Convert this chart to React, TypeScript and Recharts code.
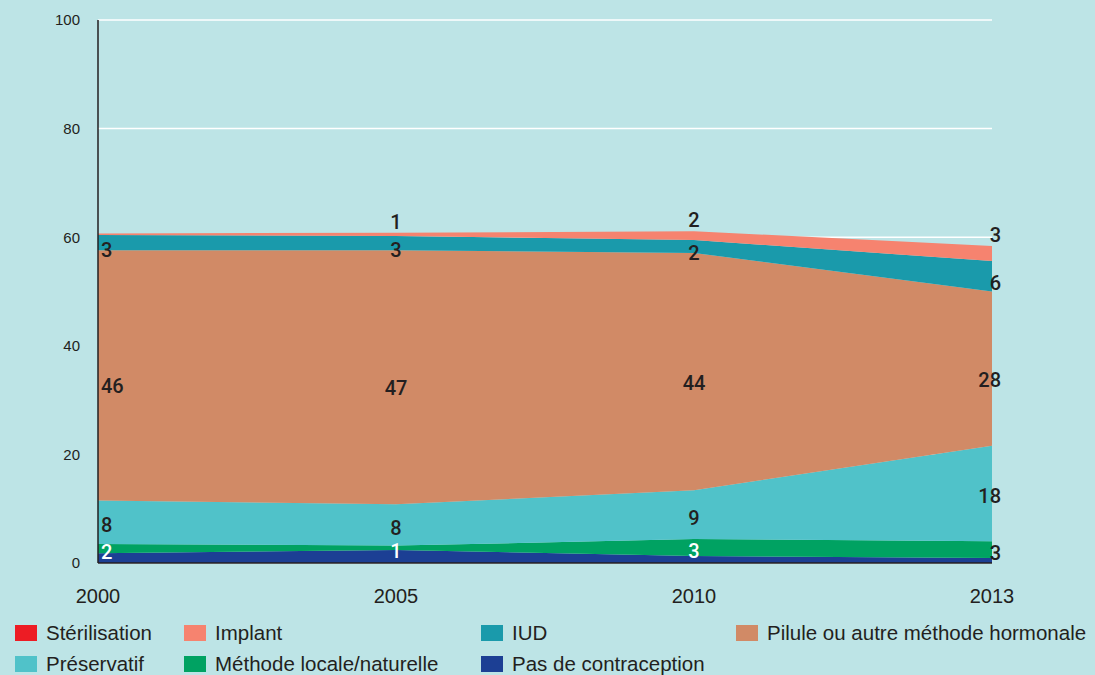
import { AreaChart, Area, XAxis, YAxis, CartesianGrid, LabelList } from 'recharts'

const YEARS = ['2000', '2005', '2010', '2013']
const Y_TICKS = [0, 20, 40, 60, 80, 100]

// percentages
const PAS = [1.8, 2.4, 1.3, 0.9]
const LOCALE = [1.7, 0.8, 3.1, 3.1]
const PRESERVATIF = [8.0, 7.6, 9.0, 17.6]
const PILULE = [46.1, 46.8, 43.7, 28.4]
const IUD = [2.8, 2.6, 2.4, 5.6]
const IMPLANT = [0.3, 0.6, 1.6, 2.8]
const STERILISATION = [0, 0, 0, 0]

const BG = '#bde4e6'
const TEXT = '#231f20'
const FONT = '"Liberation Sans", Arial, sans-serif'

const CHART_W = 1095
const CHART_H = 610
const MARGIN = { top: 20, right: 103, left: 0, bottom: 0 }
const X_AXIS_H = 47
const PLOT_H = CHART_H - MARGIN.top - MARGIN.bottom - X_AXIS_H

const data = YEARS.map((year, i) => ({
  year,
  pas: PAS[i],
  locale: LOCALE[i],
  preservatif: PRESERVATIF[i],
  pilule: PILULE[i],
  iud: IUD[i],
  implant: IMPLANT[i],
  sterilisation: STERILISATION[i],
}))

const SERIES = [
  { key: 'pas', name: 'Pas de contraception', color: '#1c3f94' },
  { key: 'locale', name: 'Méthode locale/naturelle', color: '#00a262' },
  { key: 'preservatif', name: 'Préservatif', color: '#50c2c9' },
  { key: 'pilule', name: 'Pilule ou autre méthode hormonale', color: '#d18a66' },
  { key: 'iud', name: 'IUD', color: '#1a9aab' },
  { key: 'implant', name: 'Implant', color: '#f6836f' },
  { key: 'sterilisation', name: 'Stérilisation', color: '#ed1c24' },
]

const LEGEND_ROWS = [
  ['sterilisation', 'implant', 'iud', 'pilule'],
  ['preservatif', 'locale', 'pas'],
]
const LEGEND_COLS = [15, 184, 481, 736]

type Mode = 'mid' | 'above'

// label placed in (or above) its band, band height taken from the y scale
const makeLabel = (mode: Mode, shift: number, skipFirst = false, whiteUntil = -1) => (props: any) => {
  const { x, y, value, index } = props
  if (skipFirst && index === 0) return null
  const ppu = PLOT_H / 100
  const bottom = y + Number(value) * ppu
  const cy = mode === 'mid' ? (y + bottom) / 2 + shift : y + shift
  const last = index === YEARS.length - 1
  const anchor = index === 0 ? 'start' : last ? 'end' : 'middle'
  const tx = index === 0 ? x + 3 : last ? x + 9 : x
  return (
    <text
      x={tx}
      y={cy}
      textAnchor={anchor}
      dominantBaseline="central"
      fontFamily='Roboto, "Liberation Sans", sans-serif'
      fontWeight={500}
      fontSize={20}
      fill={index <= whiteUntil ? '#ffffff' : TEXT}
    >
      {Math.round(Number(value))}
    </text>
  )
}

export default function App() {
  const byKey: Record<string, (typeof SERIES)[number]> = {}
  SERIES.forEach((s) => (byKey[s.key] = s))

  return (
    <div
      style={{
        position: 'absolute',
        top: 0,
        left: 0,
        width: CHART_W,
        height: 675,
        background: BG,
        fontFamily: FONT,
        overflow: 'hidden',
      }}
    >
      <AreaChart width={CHART_W} height={CHART_H} data={data} margin={MARGIN}>
        <CartesianGrid vertical={false} stroke="#ffffff" strokeWidth={1.5} />
        <XAxis
          dataKey="year"
          height={X_AXIS_H}
          tickLine={false}
          tickSize={0}
          tickMargin={26}
          axisLine={{ stroke: TEXT, strokeWidth: 1.5 }}
          tick={{ fill: TEXT, fontSize: 20, fontFamily: FONT }}
          interval={0}
        />
        <YAxis
          width={98}
          domain={[0, 100]}
          ticks={Y_TICKS}
          tickLine={false}
          tickSize={0}
          tickMargin={18}
          axisLine={{ stroke: TEXT, strokeWidth: 1.5 }}
          tick={{ fill: TEXT, fontSize: 15, fontFamily: FONT }}
        />
        <Area type="linear" dataKey="pas" stackId="a" stroke="none" fill={byKey.pas.color} fillOpacity={1} isAnimationActive={false} />
        <Area type="linear" dataKey="locale" stackId="a" stroke="none" fill={byKey.locale.color} fillOpacity={1} isAnimationActive={false}>
          <LabelList dataKey="locale" content={makeLabel('mid', 3, false, 2)} />
        </Area>
        <Area type="linear" dataKey="preservatif" stackId="a" stroke="none" fill={byKey.preservatif.color} fillOpacity={1} isAnimationActive={false}>
          <LabelList dataKey="preservatif" content={makeLabel('mid', 3)} />
        </Area>
        <Area type="linear" dataKey="pilule" stackId="a" stroke="none" fill={byKey.pilule.color} fillOpacity={1} isAnimationActive={false}>
          <LabelList dataKey="pilule" content={makeLabel('mid', 11)} />
        </Area>
        <Area type="linear" dataKey="iud" stackId="a" stroke="none" fill={byKey.iud.color} fillOpacity={1} isAnimationActive={false}>
          <LabelList dataKey="iud" content={makeLabel('mid', 7)} />
        </Area>
        <Area type="linear" dataKey="implant" stackId="a" stroke="none" fill={byKey.implant.color} fillOpacity={1} isAnimationActive={false}>
          <LabelList dataKey="implant" content={makeLabel('above', -11, true)} />
        </Area>
        <Area type="linear" dataKey="sterilisation" stackId="a" stroke="none" fill={byKey.sterilisation.color} fillOpacity={1} isAnimationActive={false} />
      </AreaChart>

      {LEGEND_ROWS.map((row, r) =>
        row.map((key, c) => (
          <div
            key={key}
            style={{
              position: 'absolute',
              left: LEGEND_COLS[c],
              top: 621 + r * 31,
              height: 24,
              display: 'flex',
              alignItems: 'center',
              fontSize: 20.5,
              color: TEXT,
              whiteSpace: 'nowrap',
            }}
          >
            <span style={{ display: 'inline-block', width: 22, height: 16, background: byKey[key].color, marginRight: 9 }} />
            {byKey[key].name}
          </div>
        ))
      )}
    </div>
  )
}
